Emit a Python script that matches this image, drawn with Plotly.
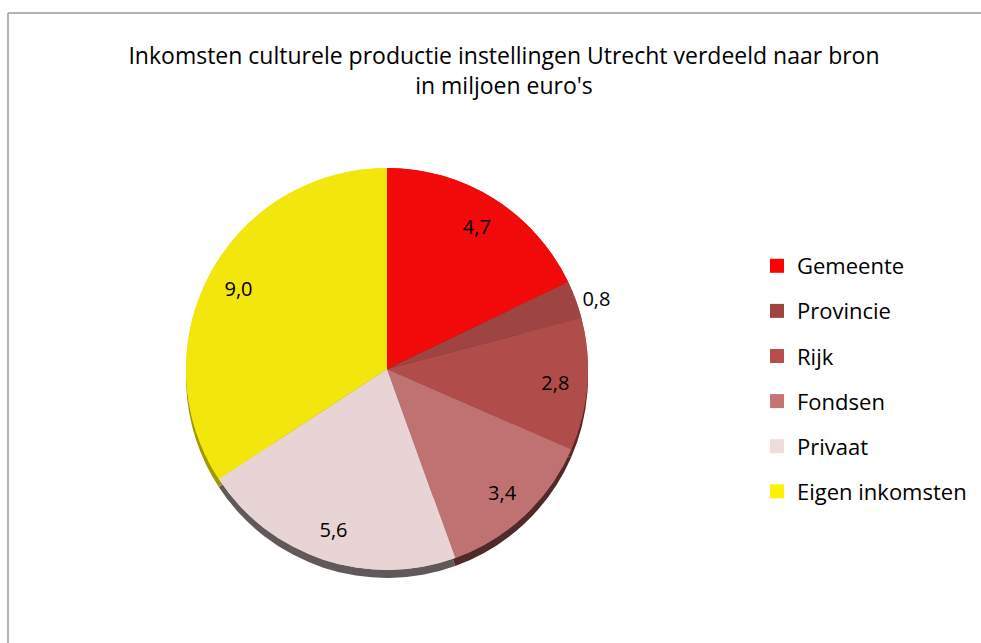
import plotly.graph_objects as go

labels = ["Gemeente", "Provincie", "Rijk", "Fondsen", "Privaat", "Eigen inkomsten"]
values = [4.7, 0.8, 2.8, 3.4, 5.6, 9.0]
colors = ["#F20A0A", "#9E4442", "#B04C4A", "#C07272", "#E8D4D4", "#F2E60C"]
legend_colors = ["#FF0000", "#A04442", "#B84E4C", "#C87472", "#F0DCDC", "#FFF200"]
edge_colors = ["#8A0606", "#5A2626", "#5C2828", "#502A2A", "#615959", "#A09A00"]
text_pos = ["inside", "outside", "inside", "inside", "inside", "inside"]

W, H = 981, 643
ml, mt = 8, 13
pw, ph = W - ml, H - mt

cx, cy, r = 387, 369, 201
depth = 8

def dom(cx, cy, r):
    return dict(x=[(cx - r - ml) / pw, (cx + r - ml) / pw],
                y=[(H - (cy + r)) / ph, (H - (cy - r)) / ph])

common = dict(labels=labels, values=values, sort=False, direction="clockwise",
              rotation=0, showlegend=False)

fig = go.Figure()
# 3D edge (same data, shifted down)
fig.add_trace(go.Pie(**common, marker=dict(colors=edge_colors, line=dict(width=0)),
                     textinfo="none", hoverinfo="skip", domain=dom(cx, cy + depth, r)))
# full top face
fig.add_trace(go.Pie(**common, marker=dict(colors=colors, line=dict(width=0)),
                     textinfo="none", hoverinfo="skip", domain=dom(cx, cy, r)))
# ring over the top face carrying the data labels (labels sit at ~0.83 r)
fig.add_trace(go.Pie(**common, hole=0.68,
                     marker=dict(colors=colors, line=dict(width=0)),
                     texttemplate="%{value:.1f}", textposition=text_pos,
                     insidetextorientation="horizontal",
                     textfont=dict(family="Open Sans", size=20, color="#000000"),
                     domain=dom(cx, cy, r)))

# legend entries
for lab, col in zip(labels, legend_colors):
    fig.add_trace(go.Scatter(x=[None], y=[None], mode="markers", name=lab,
                             legendgroup=lab, showlegend=True, hoverinfo="skip",
                             marker=dict(symbol="square", size=14, color=col)))

fig.update_layout(
    width=W, height=H,
    separators=",.",
    paper_bgcolor="white", plot_bgcolor="white",
    margin=dict(l=ml, t=mt, r=0, b=0),
    xaxis=dict(visible=False), yaxis=dict(visible=False),
    title=dict(text="Inkomsten culturele productie instellingen Utrecht verdeeld naar bron<br>in miljoen euro's",
               x=504 / W, xanchor="center", y=1 - 64 / H, yanchor="middle",
               font=dict(family="Open Sans", size=23, color="#000000")),
    legend=dict(x=(757 - ml) / pw, xanchor="left", y=(H - 245) / ph, yanchor="top",
                font=dict(family="Open Sans", size=22, color="#000000"),
                traceorder="grouped", tracegroupgap=13.5, bgcolor="rgba(0,0,0,0)"),
    shapes=[
        dict(type="line", xref="paper", yref="paper", x0=0, x1=1.02, y0=1, y1=1,
             line=dict(color="#9A9A9A", width=1.5)),
        dict(type="line", xref="paper", yref="paper", x0=0, x1=0, y0=-0.05, y1=1,
             line=dict(color="#9A9A9A", width=1.5)),
    ],
)

fig.write_html("out.html", config={"displayModeBar": False},
               post_script="document.body.style.margin='0px';")
